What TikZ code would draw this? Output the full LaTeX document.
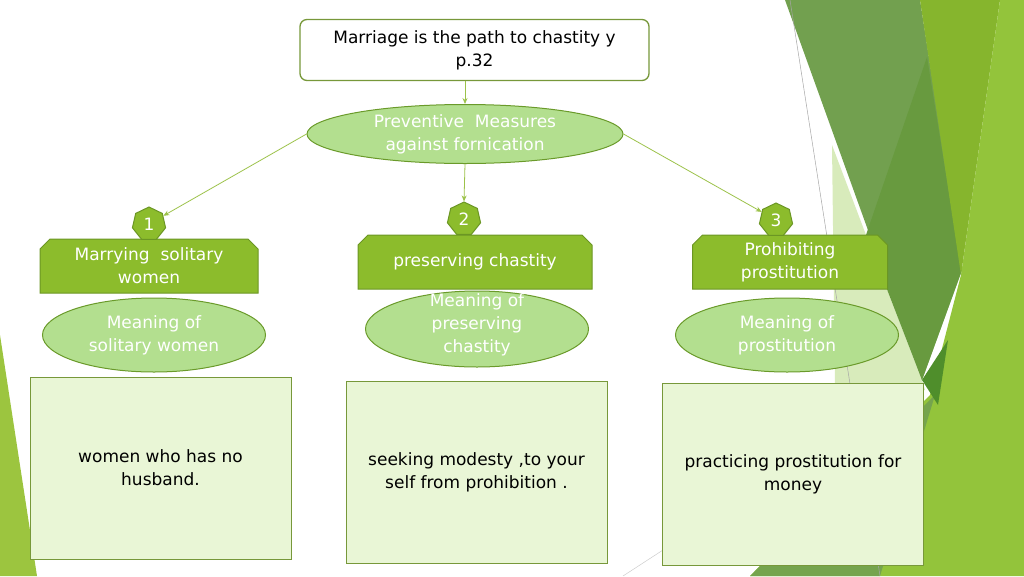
\documentclass[tikz,border=0pt]{standalone}
\usepackage{fontspec}
\setmainfont{DejaVu Sans}
\usetikzlibrary{shapes.geometric,shapes.misc,arrows.meta}

\definecolor{leafgreen}{HTML}{8CBC2C}
\definecolor{leafline}{HTML}{6B9624}
\definecolor{softgreen}{HTML}{B3DF8F}
\definecolor{softline}{HTML}{6A9A2A}
\definecolor{palebox}{HTML}{E9F6D6}
\definecolor{paleline}{HTML}{77983A}
\definecolor{linkgreen}{HTML}{9CC24A}
\definecolor{mossgreen}{HTML}{72A04F}
\definecolor{deepmoss}{HTML}{689A3F}
\definecolor{darkmoss}{HTML}{4F8E2B}
\definecolor{brightgreen}{HTML}{86B52D}
\definecolor{limegreen}{HTML}{93C43B}
\definecolor{lightlime}{HTML}{9CC53F}
\definecolor{palelime}{HTML}{D8EBBB}

\tikzset{
  every node/.style={font=\fontsize{17}{23}\selectfont, align=center, inner sep=0pt},
  titlebox/.style={rectangle, rounded corners=7pt, draw=paleline, line width=1.3pt,
    fill=white, minimum width=349pt, minimum height=61pt},
  measure/.style={ellipse, draw=softline, line width=1pt, fill=softgreen,
    text=white, minimum width=316pt, minimum height=59pt},
  numtag/.style={regular polygon, regular polygon sides=7, draw=leafline,
    line width=1pt, fill=leafgreen, text=white, minimum size=34pt},
  heading/.style={chamfered rectangle, chamfered rectangle corners={north west,north east},
    chamfered rectangle xsep=5pt, chamfered rectangle ysep=5pt,
    draw=leafline, line width=1pt, fill=leafgreen, text=white, minimum height=54pt},
  meaning/.style={ellipse, draw=softline, line width=1pt, fill=softgreen,
    text=white, minimum width=223pt, minimum height=74pt},
  answer/.style={rectangle, draw=paleline, line width=1pt, fill=palebox,
    minimum width=261pt, minimum height=182pt},
  link/.style={draw=linkgreen, line width=0.8pt, -{Stealth[length=6pt,width=5pt]}}
}

\begin{document}
\begin{tikzpicture}[x=1pt, y=-1pt]
  \useasboundingbox (0,0) rectangle (1024,576);

  % background leaves
  \fill[lightlime] (0,335) -- (37,576) -- (0,576) -- cycle;
  \fill[palelime] (832,145) -- (866,235) -- (922,380) -- (925,390) -- (835,390) -- cycle;
  \fill[mossgreen] (785,0) -- (920,0) -- (962,270) -- (922,380) -- cycle;
  \fill[deepmoss] (927,57) -- (950,200) -- (962,270) -- (922,380) -- (866,235) -- cycle;
  \fill[brightgreen] (920,0) -- (1000,0) -- (961,275) -- cycle;
  \fill[limegreen] (1000,0) -- (1024,0) -- (1024,576) -- (750,576) -- (930,395) -- (961,275) -- cycle;
  \fill[mossgreen!90!limegreen] (750,576) -- (880,576) -- (935,395) -- cycle;
  \fill[darkmoss] (922,380) -- (948,340) -- (938,405) -- cycle;
  \draw[gray!70, line width=0.5pt] (790,0) -- (880,576);
  \draw[gray!40, line width=0.5pt] (623,576) -- (663,550);

  \node[titlebox] (title) at (474.5,50) {Marriage is the path to chastity y\\p.32};
  \node[measure] (pem) at (465,134) {Preventive\ \ Measures\\against fornication};

  \node[heading, minimum width=218pt] (head1) at (149,266) {Marrying\ \ solitary\\women};
  \node[heading, minimum width=234pt] (head2) at (475,262) {preserving chastity};
  \node[heading, minimum width=195pt] (head3) at (790,262) {Prohibiting\\prostitution};

  \node[numtag] (num1) at (149,224) {1};
  \node[numtag] (num2) at (464,219) {2};
  \node[numtag] (num3) at (776,220) {3};

  \node[meaning] (mean1) at (154,335) {Meaning of\\solitary women};
  \node[meaning, minimum height=76pt] (mean2) at (477,329)
    {\smash{\begin{tabular}{@{}c@{}}Meaning of\\preserving\\chastity\end{tabular}}};
  \node[meaning] (mean3) at (787,335) {Meaning of\\prostitution};

  \node[answer] (ans1) at (160.5,468) {women who has no\\husband.};
  \node[answer] (ans2) at (476.5,472) {seeking modesty ,to your\\self from prohibition .};
  \node[answer] (ans3) at (793,474) {practicing prostitution for\\money};

  \draw[link] (pem.north |- title.south) -- (pem.north);
  \draw[link] (pem.west) -- (num1);
  \draw[link] (pem.south) -- (num2.north);
  \draw[link] (pem.east) -- (num3);
\end{tikzpicture}
\end{document}
